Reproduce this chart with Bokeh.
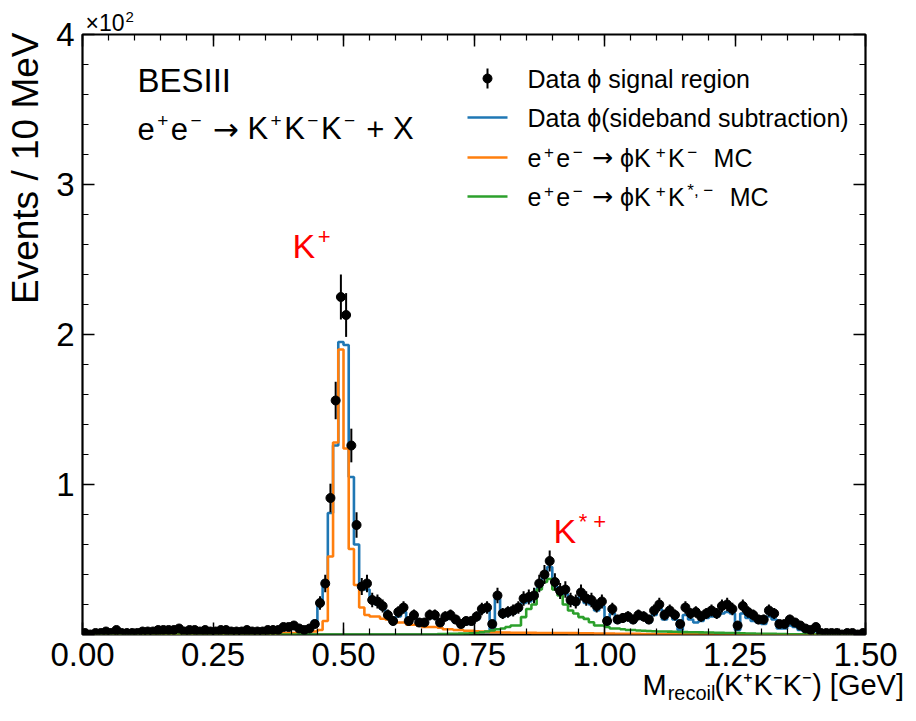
import numpy as np
from bokeh.plotting import figure
from bokeh.models import LinearAxis, FixedTicker, Label, Range1d
from bokeh.embed import file_html
from bokeh.resources import INLINE

# ---------------- data (events per 10 MeV bin, 0.00 - 1.50 GeV) ----------------
bin_edges = np.round(np.linspace(0.0, 1.5, 151), 4)

data_signal = [
    1, 0, 1, 1, 2, 1, 3, 1, 1, 1,
    1, 2, 2, 2, 3, 3, 3, 3, 4, 2,
    3, 3, 2, 3, 2, 2, 3, 3, 2, 2,
    2, 3, 2, 2, 2, 3, 3, 3, 5, 5,
    6, 4, 3, 4, 7, 21, 34, 91, 156, 225,
    213, 126, 73, 32, 34, 23, 22, 19, 13, 9,
    15, 18, 9, 13, 8, 8, 13, 13, 8, 12,
    13, 10, 7, 9, 9, 12, 17, 18, 7, 26,
    14, 15, 16, 18, 24, 25, 26, 34, 40, 49,
    35, 29, 30, 23, 22, 28, 24, 23, 19, 22,
    9, 17, 10, 11, 12, 10, 13, 12, 10, 16,
    20, 13, 16, 13, 7, 18, 14, 15, 12, 14,
    16, 14, 19, 20, 17, 6, 19, 15, 13, 10,
    10, 16, 14, 7, 7, 10, 8, 6, 4, 3,
    5, 1, 1, 1, 1, 0, 1, 1, 0, 1,
]

data_sideband = [
    0.5, 0, 0.5, 0.5, 1, 0.5, 2, 0.5, 0.5, 0.5,
    0.5, 1, 1, 1, 2, 2, 2, 2, 3, 1,
    2, 2, 1, 2, 1, 1, 2, 2, 1, 1,
    1, 2, 1, 1, 1, 2, 2, 2, 3, 3,
    4, 3, 2, 3, 9, 20, 36, 81, 126, 195,
    193, 105, 60, 32, 30, 24, 20, 17, 11, 8,
    12, 15, 7, 11, 6, 6, 11, 11, 6, 10,
    11, 8, 5, 7, 7, 10, 15, 16, 3, 24,
    12, 13, 14, 16, 21, 22, 24, 31, 38, 45,
    32, 27, 27, 21, 20, 25, 21, 20, 16, 19,
    7, 14, 8, 9, 10, 8, 11, 10, 8, 13,
    17, 10, 13, 10, 3, 13, 10, 8, 9, 11,
    12, 12, 14, 15, 14, 3, 14, 11, 9, 8,
    7, 12, 10, 4, 4, 6, 5, 3, 2, 1.5,
    2, 0.5, 0.5, 0.5, 0.5, 0, 0.5, 0.5, 0, 0.5,
]

mc_phikk = [
    0, 0, 0, 0, 0, 0, 0, 0, 0, 0,
    0, 0, 0, 0, 0, 0, 0, 0, 0, 0,
    0, 0, 0, 0, 0, 0, 0, 0, 0, 0,
    0, 0, 0, 0, 0, 0, 0, 0.5, 1, 1,
    1, 1.5, 1.5, 2, 2, 3, 9, 52, 128, 190,
    124, 57, 33, 18, 13, 12, 12, 10.5, 10, 8,
    8, 8, 6.5, 6.5, 6, 5, 5, 5, 4.5, 3.5,
    3.5, 3, 3, 2.5, 2.5, 2.2, 2, 2, 1.5, 1.5,
    1.3, 1.3, 1.2, 1.2, 1.2, 1.2, 1.1, 1, 1, 1,
    1, 1, 1, 0.9, 0.9, 0.8, 0.8, 0.8, 0.7, 0.7,
    0.6, 0.6, 0.5, 0.5, 0.5, 0.4, 0.4, 0.3, 0.3, 0.3,
    0.2, 0.2, 0.2, 0.2, 0.1, 0.1, 0.1, 0.1, 0.1, 0.1,
    0, 0, 0, 0, 0, 0, 0, 0, 0, 0,
    0, 0, 0, 0, 0, 0, 0, 0, 0, 0,
    0, 0, 0, 0, 0, 0, 0, 0, 0, 0,
]

mc_phikkstar = [
    0, 0, 0, 0, 0, 0, 0, 0, 0, 0,
    0, 0, 0, 0, 0, 0, 0, 0, 0, 0,
    0, 0, 0, 0, 0, 0, 0, 0, 0, 0,
    0, 0, 0, 0, 0, 0, 0, 0, 0, 0,
    0, 0, 0, 0, 0, 0, 0, 0, 0, 0,
    0, 0, 0, 0, 0, 0, 0, 0, 0, 0,
    0, 0, 0, 0, 0, 0, 0, 0, 0.3, 0.3,
    0.4, 0.5, 0.6, 0.7, 0.8, 1, 1.5, 2, 2.7, 3.5,
    4, 5, 6, 6, 11.6, 17, 20, 30, 35, 37,
    30, 26, 20, 16, 14, 11.6, 10.4, 8.2, 6, 6,
    5, 4, 4, 3.5, 3, 3, 2.7, 2.5, 2.3, 2.2,
    2, 2, 1.9, 1.8, 1.7, 1.6, 1.5, 1.5, 1.4, 1.3,
    1.3, 1.2, 1.1, 1, 1, 0.9, 0.8, 0.7, 0.6, 0.5,
    0.5, 0.4, 0.4, 0.3, 0.3, 0.2, 0.2, 0.1, 0.1, 0,
    0, 0, 0, 0, 0, 0, 0, 0, 0, 0,
]

x_major = [0.0, 0.25, 0.5, 0.75, 1.0, 1.25, 1.5]
x_labels = {0.0: "0.00", 0.25: "0.25", 0.5: "0.50", 0.75: "0.75",
            1.0: "1.00", 1.25: "1.25", 1.5: "1.50"}
y_major = [0, 100, 200, 300, 400]
y_labels = {0: "", 100: "1", 200: "2", 300: "3", 400: "4"}

# ---------------- styling ----------------
FONT = "Liberation Sans"
ARROW_FONT = "DejaVu Sans"
C_BLUE, C_ORANGE, C_GREEN = "#1f77b4", "#ff7f0e", "#2ca02c"

W, H = 916, 721
FL, FR, FT, FB = 82, 865, 34, 634   # frame pixel box
XMIN, XMAX, YMIN, YMAX = 0.0, 1.5, 0.0, 400.0


def dx(px):
    return XMIN + (px - FL) / (FR - FL) * (XMAX - XMIN)


def dy(py):
    return YMIN + (FB - py) / (FB - FT) * (YMAX - YMIN)


# approximate Liberation Sans advance widths (em)
ADV = {"e": .556, "K": .667, "X": .667, "M": .833, "C": .722, "+": .584,
       "−": .584, " ": .278, "ϕ": .66, "*": .389, ",": .278, "×": .584,
       "1": .556, "0": .556, "2": .556,
       "r": .333, "c": .5, "o": .556, "i": .222, "l": .222}
ARROW_ADV = .838


def tw(s, size):
    return sum(ADV.get(ch, .6) for ch in s) * size


p = figure(width=W, height=H, x_range=Range1d(XMIN, XMAX), y_range=Range1d(YMIN, YMAX),
           x_axis_type=None, y_axis_type=None, output_backend="svg",
           toolbar_location=None, min_border_left=FL, min_border_right=W - FR,
           min_border_top=FT, min_border_bottom=H - FB)
p.grid.visible = False
p.outline_line_color = "black"
p.outline_line_width = 2.2
p.background_fill_color = "white"
p.border_fill_color = "white"

x_minor = [round(v, 3) for v in np.arange(0, 1.5001, 0.05)]
y_minor = [round(v, 3) for v in np.arange(0, 400.1, 20)]

TICK_FS = "33px"


def tick_axis(ticks, minor, show_labels, overrides=None, size=TICK_FS, standoff=8):
    ax = LinearAxis(ticker=FixedTicker(ticks=ticks, minor_ticks=minor))
    ax.axis_line_color = None
    ax.major_tick_in = 12
    ax.major_tick_out = 0
    ax.minor_tick_in = 6
    ax.minor_tick_out = 0
    ax.major_tick_line_width = 1.5
    ax.minor_tick_line_width = 1.2
    ax.major_tick_line_color = "black"
    ax.minor_tick_line_color = "black"
    ax.major_label_text_font = FONT
    if show_labels:
        ax.major_label_text_font_size = size
        ax.major_label_text_color = "black"
        ax.major_label_standoff = standoff
        ax.major_label_overrides = overrides
    else:
        ax.major_label_text_font_size = "1px"
        ax.major_label_text_alpha = 0
        ax.major_label_standoff = 0
    return ax


def text_axis(positions, texts, size, standoff, orientation="horizontal"):
    """An axis without tick marks, used only to write a title text beside the frame."""
    ax = LinearAxis(ticker=FixedTicker(ticks=positions, minor_ticks=[]))
    ax.axis_line_color = None
    ax.major_tick_line_color = None
    ax.minor_tick_line_color = None
    ax.major_tick_in = 0
    ax.major_tick_out = 0
    ax.minor_tick_in = 0
    ax.minor_tick_out = 0
    ax.major_label_text_font = FONT
    ax.major_label_text_font_size = size
    ax.major_label_text_color = "black"
    ax.major_label_standoff = standoff
    ax.major_label_orientation = orientation
    ax.major_label_overrides = dict(zip(positions, texts))
    return ax


# tick axes on all four sides
p.add_layout(tick_axis(x_major, x_minor, True, x_labels, TICK_FS, 8), "below")
p.add_layout(tick_axis(x_major, x_minor, False), "above")
p.add_layout(tick_axis(y_major, y_minor, True, y_labels, TICK_FS, 8), "left")
p.add_layout(tick_axis(y_major, y_minor, False), "right")

# x-axis title: M_recoil(K+K-K-) [GeV]
XT_MAIN, XT_SUB = 29, 20
xt_left = 642
w_M = tw("M", XT_MAIN)
w_sub = tw("recoil", XT_SUB)
w_rest = 6.4 * XT_MAIN
c_M = dx(xt_left + w_M / 2)
c_sub = dx(xt_left + w_M + 1 + w_sub / 2)
c_rest = dx(xt_left + w_M + w_sub + 2 + w_rest / 2)
p.add_layout(text_axis([c_M, c_rest], ["M", "(K⁺K⁻K⁻) [GeV]"], f"{XT_MAIN}px", 0), "below")
p.add_layout(text_axis([c_sub], ["recoil"], f"{XT_SUB}px", -22), "below")

# y-axis title, top-aligned
YT = 37
yt_len = 7.34 * YT
p.add_layout(text_axis([dy(32 + yt_len / 2)], ["Events / 10 MeV"], f"{YT}px", 7,
                       "vertical"), "left")

# multiplier ×10^2 above the frame
MUL, MUL_SUP = 23, 15
p.add_layout(text_axis([dx(85 + tw("×10", MUL) / 2)], ["×10"], f"{MUL}px", -1), "above")
p.add_layout(text_axis([dx(85 + tw("×10", MUL) + 1 + tw("2", MUL_SUP) / 2)], ["2"],
                       f"{MUL_SUP}px", -15), "above")

# ---------------- histograms ----------------
edges = np.asarray(bin_edges)
centers = 0.5 * (edges[:-1] + edges[1:])


def step_hist(vals, color):
    v = np.asarray(vals, dtype=float)
    p.step(x=edges, y=np.append(v, v[-1]), mode="after", line_color=color,
           line_width=2.6)


step_hist(data_sideband, C_BLUE)
step_hist(mc_phikk, C_ORANGE)
step_hist(mc_phikkstar, C_GREEN)

sig = np.asarray(data_signal, dtype=float)
err = np.sqrt(sig)
p.segment(x0=centers, y0=sig - err, x1=centers, y1=sig + err, line_color="black",
          line_width=2)
p.scatter(x=centers, y=sig, size=9, marker="circle", fill_color="black",
          line_color="black")

# ---------------- texts inside the frame ----------------


def lab(text, px, py, size, color="black", font=FONT):
    p.add_layout(Label(x=dx(px), y=dy(py), text=text, text_font=font,
                       text_font_size=f"{size}px", text_color=color, text_align="left",
                       text_baseline="middle"))


def rich(pieces, px, cy, size, sup_size, rise, color="black", pad=2.5):
    """pieces: list of (text, kind); kind n=normal, s=superscript, a=arrow, w=space"""
    x = px
    for t, kind in pieces:
        if kind == "w":
            x += ADV[" "] * size * len(t)
        elif kind == "a":
            lab("→", x, cy, size, color, ARROW_FONT)
            x += ARROW_ADV * size
        elif kind == "s":
            lab(t, x + pad, cy - rise, sup_size, color)
            x += tw(t, sup_size) + 2 * pad
        else:
            lab(t, x, cy, size, color)
            x += tw(t, size)


lab("BESIII", 137, 80, 33)
rich([("e", "n"), ("+", "s"), ("e", "n"), ("−", "s"), (" ", "w"), ("→", "a"),
      (" ", "w"), ("K", "n"), ("+", "s"), ("K", "n"), ("−", "s"), ("K", "n"),
      ("−", "s"), (" ", "w"), ("+", "n"), (" ", "w"), ("X", "n")], 137, 128, 31, 19, 8)

# peak annotations
rich([("K", "n"), ("+", "s")], 292, 245, 34, 22, 9, color="red")
rich([("K", "n"), ("* +", "s")], 553, 530, 34, 22, 9, color="red")

# ---------------- legend ----------------
LX0, LX1, LXT = 467, 507, 527
leg_y = [78, 117, 157, 196]
LF, LS, LR = 25, 17, 6
lab("Data ϕ signal region", LXT, leg_y[0], LF)
lab("Data ϕ(sideband subtraction)", LXT, leg_y[1], LF)
leg_head = [("e", "n"), ("+", "s"), ("e", "n"), ("−", "s"), (" ", "w"), ("→", "a"),
            (" ", "w"), ("ϕK", "n"), ("+", "s"), ("K", "n")]
rich(leg_head + [("−", "s"), ("  ", "w"), ("MC", "n")], LXT, leg_y[2], LF, LS, LR)
rich(leg_head + [("*, −", "s"), ("  ", "w"), ("MC", "n")], LXT, leg_y[3], LF, LS, LR)

xm = 0.5 * (dx(LX0) + dx(LX1))
p.segment(x0=[xm], y0=[dy(leg_y[0] + 10)], x1=[xm], y1=[dy(leg_y[0] - 10)],
          line_color="black", line_width=2)
p.scatter(x=[xm], y=[dy(leg_y[0])], size=9, marker="circle", fill_color="black",
          line_color="black")
for yy, c in zip(leg_y[1:], [C_BLUE, C_ORANGE, C_GREEN]):
    p.line(x=[dx(LX0), dx(LX1)], y=[dy(yy), dy(yy)], line_color=c, line_width=2.6)

open("out.html", "w").write(file_html(p, INLINE))
